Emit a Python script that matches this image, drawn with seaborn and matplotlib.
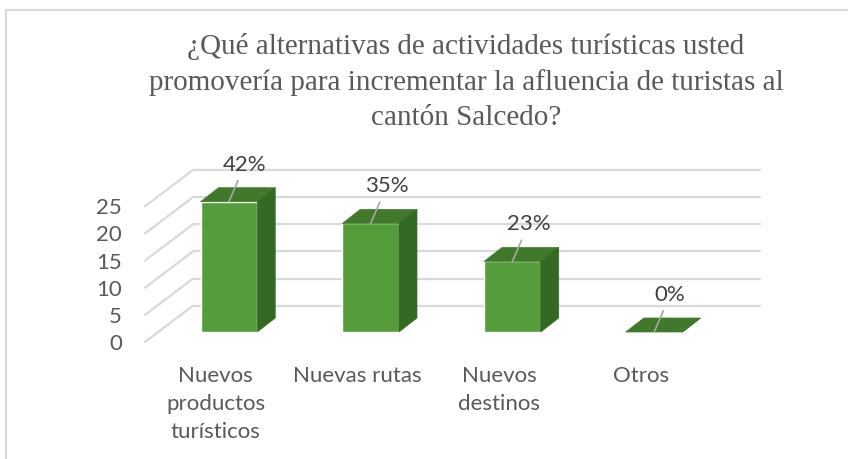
import numpy as np
import pandas as pd
import seaborn as sns
from matplotlib import pyplot as plt
from matplotlib.patches import Polygon, Rectangle
from matplotlib.transforms import ScaledTranslation

# data (counts, labels as shown)
categories = ["Nuevos\nproductos\nturísticos", "Nuevas rutas", "Nuevos\ndestinos", "Otros"]
counts = [24, 20, 13, 0]
pct_labels = ["42%", "35%", "23%", "0%"]
y_ticks = [0, 5, 10, 15, 20, 25]
title = ("¿Qué alternativas de actividades turísticas usted\n"
         "promovería para incrementar la afluencia de turistas al\n"
         "cantón Salcedo?")

front_col = "#559d3b"
top_col = "#40792b"
side_col = "#336923"
grid_col = "#d9d9d9"
text_col = "#595959"

W, H, DPI = 848, 459, 100
AX_L, AX_B, AX_W, AX_H = 158, 332, 567, 135.7   # pixels (bottom measured from top)

sns.set_style("white")
plt.rcParams['font.family'] = ['Lato', 'DejaVu Sans']

fig = plt.figure(figsize=(W / DPI, H / DPI), dpi=DPI)
ax = fig.add_axes([AX_L / W, (H - AX_B) / H, AX_W / W, AX_H / H])

df = pd.DataFrame({"cat": categories, "n": counts})
sns.barplot(data=df, x="cat", y="n", color=front_col, saturation=1, width=0.4,
            ax=ax, zorder=3)
ax.set_xlim(-0.5, 3.5)
ax.set_ylim(0, 25)


def off(dx, dy):
    # pixel offset (right, up) -> data units
    return dx * 4 / AX_W, dy * 25 / AX_H


# walls: back gridlines + diagonals on the left wall
bx, by = off(35, 26.3)
fx, fy = off(-13, -10)
for v in y_ticks:
    ax.plot([-0.5 + bx, 3.5 + bx], [v + by, v + by], color=grid_col, lw=1.6,
            clip_on=False, zorder=1)
    ax.plot([-0.5 + fx, -0.5 + bx], [v + fy, v + by], color=grid_col, lw=1.6,
            clip_on=False, zorder=1)

# 3d faces of the bars
ddx, ddy = off(18, 14)
for p in ax.patches[:len(counts)]:
    x0, w, h = p.get_x(), p.get_width(), p.get_height()
    p.set_clip_on(False)
    top = Polygon([(x0, h), (x0 + w, h), (x0 + w + ddx, h + ddy), (x0 + ddx, h + ddy)],
                  closed=True, facecolor=top_col, edgecolor=top_col, lw=0.5,
                  clip_on=False, zorder=3)
    side = Polygon([(x0 + w, 0), (x0 + w + ddx, ddy), (x0 + w + ddx, h + ddy), (x0 + w, h)],
                   closed=True, facecolor=side_col, edgecolor=side_col, lw=0.5,
                   clip_on=False, zorder=3)
    ax.add_patch(top)
    ax.add_patch(side)

# data labels with leader lines
for i, (n, lab) in enumerate(zip(counts, pct_labels)):
    ax.annotate(lab, xy=(i, n), xytext=(16 * 0.72, 37 * 0.72), textcoords="offset points",
                ha="center", va="center", fontsize=16, color="#404040",
                arrowprops=dict(arrowstyle="-", color="#a6a6a6", lw=1.2,
                                shrinkA=2, shrinkB=0), zorder=5)

ax.set_yticks(y_ticks)
ax.set_xlabel("")
ax.set_ylabel("")
ax.tick_params(left=False, bottom=False, labelsize=16, labelcolor=text_col)
ax.tick_params(axis="y", pad=13)
ax.tick_params(axis="x", pad=14)
shift = ScaledTranslation(-13 / DPI, -10 / DPI, fig.dpi_scale_trans)
for lbl in ax.get_yticklabels() + ax.get_xticklabels():
    lbl.set_transform(lbl.get_transform() + shift)
for lbl in ax.get_xticklabels():
    lbl.set_linespacing(1.5)
ax.grid(False)
sns.despine(ax=ax, left=True, bottom=True)
ax.patch.set_alpha(0)

fig.text(466 / W, 1 - 82 / H, title, ha="center", va="center", multialignment="center",
         fontsize=21, linespacing=1.45, color=text_col, family=["Liberation Serif"])

fig.add_artist(Rectangle((6 / W, -0.1), 1.1, 1 - 10 / H + 0.1, fill=False,
                         edgecolor=grid_col, lw=1.5, transform=fig.transFigure))

fig.savefig("out.png", dpi=DPI)
